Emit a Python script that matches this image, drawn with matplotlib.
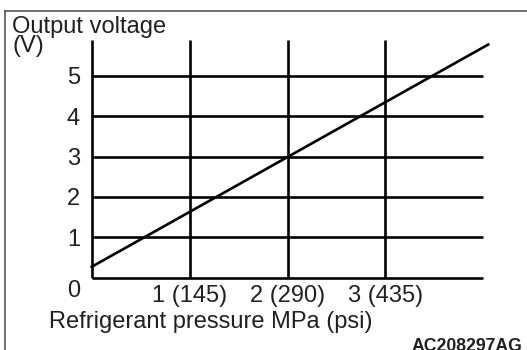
import matplotlib
matplotlib.use('Agg')
import matplotlib.pyplot as plt
from matplotlib.lines import Line2D

# chart data
volt_ticks = [1, 2, 3, 4, 5]
press_ticks = [1, 2, 3]
press_labels = ['1 (145)', '2 (290)', '3 (435)']
line_x = [0, 4.05]
line_y = [0.27, 5.78]

W, H = 527, 350
fig = plt.figure(figsize=(W / 100, H / 100), dpi=100)
plt.rcParams['font.family'] = ['Liberation Sans', 'DejaVu Sans']

# axes placed so data 0..4 MPa / 0..5 V land where the reference grid is
x0, y0 = 91.7, 277.7
px_x, px_y = 97.9, 40.34
xmax, ymax = 4.1, 5.9
ax = fig.add_axes([x0 / W, (H - y0) / H, xmax * px_x / W, ymax * px_y / H])
ax.set_xlim(0, xmax)
ax.set_ylim(0, ymax)
ax.axis('off')

lw = 1.9
txt = '#231f20'
fs = 17

# grid
for v in [0] + volt_ticks:
    ax.plot([0, 4.0], [v, v], color='black', lw=lw, solid_capstyle='butt', clip_on=False)
for p in [0] + press_ticks:
    ax.plot([p, p], [0, 5.9], color='black', lw=lw, solid_capstyle='butt', clip_on=False)

# characteristic line
ax.plot(line_x, line_y, color='black', lw=lw, clip_on=False)

# tick labels
for v in volt_ticks:
    ax.text(-0.12, v - 0.21, str(v), ha='right', va='baseline', fontsize=fs, color=txt, clip_on=False)
ax.text(-0.12, -0.48, '0', ha='right', va='baseline', fontsize=fs, color=txt, clip_on=False)
for p, lab in zip(press_ticks, press_labels):
    ax.text(p, -0.59, lab, ha='center', va='baseline', fontsize=fs, color=txt, clip_on=False)

# titles
fig.text(12 / W, 1 - 33 / H, 'Output voltage', ha='left', va='baseline', fontsize=fs, color=txt)
fig.text(12 / W, 1 - 52 / H, '(V)', ha='left', va='baseline', fontsize=fs, color=txt)
fig.text(49 / W, 1 - 328 / H, 'Refrigerant pressure MPa (psi)', ha='left', va='baseline', fontsize=fs, color=txt)
fig.text(522 / W, -0.002, 'AC208297AG', ha='right', va='baseline', fontsize=12.7,
         fontweight='bold', color=txt)

# frame around the figure (left and top only)
fig.add_artist(Line2D([4.5 / W, 4.5 / W], [0, 1 - 11 / H], color='#555555', lw=1.2, transform=fig.transFigure))
fig.add_artist(Line2D([4.5 / W, 1], [1 - 11 / H, 1 - 11 / H], color='#555555', lw=1.2, transform=fig.transFigure))

fig.savefig('out.png', dpi=100)
